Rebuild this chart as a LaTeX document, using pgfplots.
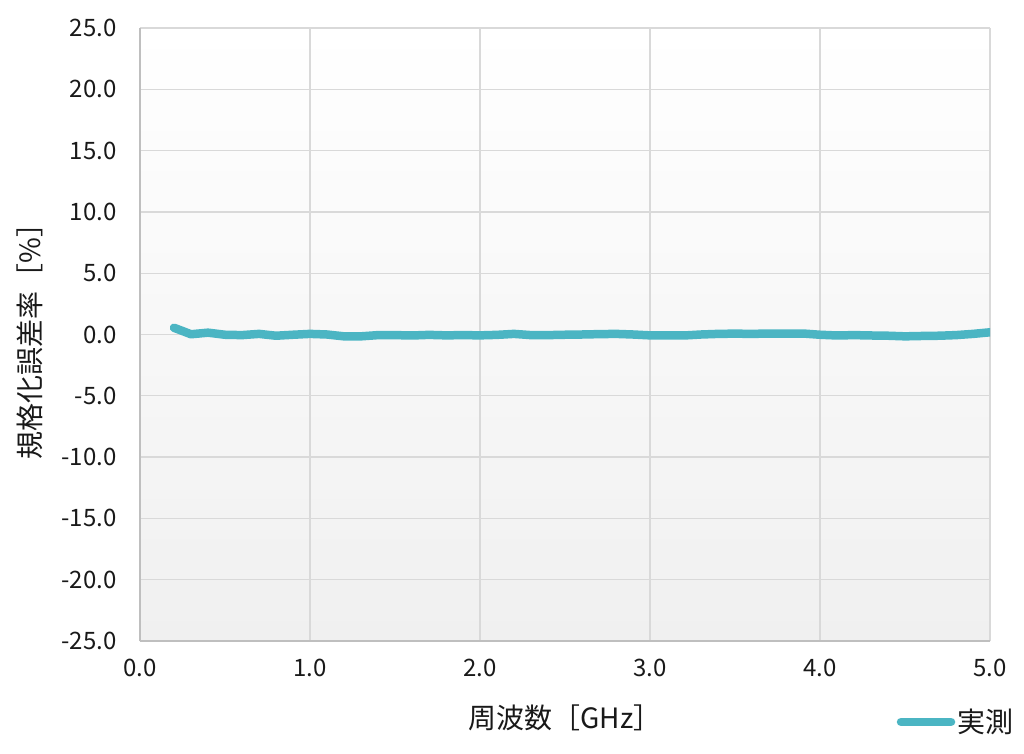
\documentclass[border=0pt]{standalone}
\usepackage{fontspec}
\setmainfont{Noto Sans CJK JP}
\usepackage{pgfplots}
\pgfplotsset{compat=1.18}
\definecolor{lineC}{HTML}{4BB5C3}
\definecolor{gridC}{HTML}{D9D9D9}
\definecolor{axisC}{HTML}{BFBFBF}
\definecolor{bgBot}{HTML}{F0F0F0}
\begin{document}
\begin{tikzpicture}
\useasboundingbox (-140pt,-112pt) rectangle (884pt,641pt);
\begin{axis}[
  at={(0,0)}, anchor=south west,
  scale only axis, width=850pt, height=613pt,
  xmin=0, xmax=5, ymin=-25, ymax=25,
  xtick={0,1,...,5}, ytick={-25,-20,...,25},
  axis x line*=bottom, axis y line*=left,
  axis line style={axisC, line width=2pt},
  x axis line style={-}, y axis line style={-},
  major tick length=0pt,
  grid=major, major grid style={gridC, line width=1.3pt},
  axis background/.style={top color=white, bottom color=bgBot},
  /pgf/number format/.cd, fixed, fixed zerofill, precision=1, assume math mode=true,
  /pgfplots/.cd,
  tick label style={font=\fontsize{24}{27}\selectfont, text=black!90},
  xticklabel style={yshift=-15pt},
  yticklabel style={xshift=-20pt},
  xlabel={周波数［GHz］},
  ylabel={規格化誤差率［\%］},
  label style={font=\fontsize{28}{31}\selectfont, text=black!90},
  xlabel style={at={(0.5,0)}, anchor=center, yshift=-77pt},
  ylabel style={anchor=center, rotate=0},
  every axis y label/.append style={at={(-110pt,306.5pt)}},
  legend style={draw=none, fill=none, at={(0.96,-0.132)}, anchor=center,
    font=\fontsize{28}{31}\selectfont, text=black!90, inner sep=0pt},
  legend image code/.code={\draw[#1, line width=8.5pt, line cap=round] (0pt,0pt) -- (50pt,0pt);},
]
\addplot[lineC, line width=8.5pt, line join=round, line cap=round] coordinates {
(0.2,0.55) (0.3,0.02) (0.4,0.15) (0.5,-0.02) (0.6,-0.05) (0.7,0.05) (0.8,-0.10)
(0.9,-0.02) (1.0,0.05) (1.1,0.0) (1.2,-0.15) (1.3,-0.15) (1.4,-0.05) (1.5,-0.05)
(1.6,-0.08) (1.7,-0.03) (1.8,-0.07) (1.9,-0.05) (2.0,-0.07) (2.1,-0.03) (2.2,0.05)
(2.3,-0.05) (2.4,-0.05) (2.5,-0.02) (2.6,0.0) (2.7,0.03) (2.8,0.05) (2.9,0.0)
(3.0,-0.07) (3.1,-0.07) (3.2,-0.08) (3.3,0.0) (3.4,0.05) (3.5,0.07) (3.6,0.05)
(3.7,0.08) (3.8,0.08) (3.9,0.08) (4.0,-0.02) (4.1,-0.08) (4.2,-0.05) (4.3,-0.08)
(4.4,-0.1) (4.5,-0.15) (4.6,-0.12) (4.7,-0.1) (4.8,-0.05) (4.9,0.05) (5.0,0.18)
};
\addlegendentry{実測}
\end{axis}
\end{tikzpicture}
\end{document}
